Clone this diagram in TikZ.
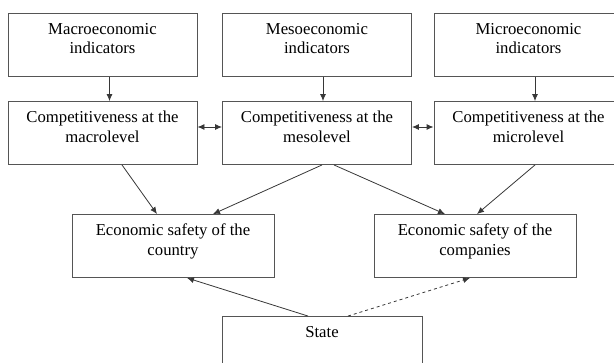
\documentclass[tikz,border=0pt]{standalone}
\usepackage{fontspec}
\setmainfont{Liberation Serif}
\usetikzlibrary{calc}
\usetikzlibrary{positioning}
\usetikzlibrary{arrows.meta}
\definecolor{boxgray}{RGB}{85,85,85}
\definecolor{linegray}{RGB}{55,55,55}
\tikzstyle{blockbox} = [draw=boxgray, line width=0.9pt, inner xsep=0pt, inner ysep=9.5pt, font=\fontsize{16.7}{19.5}\selectfont]
\tikzstyle{link} = [draw=linegray, line width=0.8pt, -{Latex[length=7pt,width=6pt]}]
\tikzstyle{duallink} = [draw=linegray, line width=0.9pt, {Latex[length=7pt,width=6pt]}-{Latex[length=7pt,width=6pt]}]
\newcommand{\blocktext}[2]{\parbox[t][44pt][t]{#1}{\centering #2}}

\begin{document}
\begin{tikzpicture}[x=1pt, y=-1pt]
    \useasboundingbox (0,0) rectangle (614,362);
    \clip (0,0) rectangle (614,362);

    \node[blockbox] (macro_ind) at (102.5,45) {\blocktext{189pt}{Macroeconomic\\indicators}};
    \node[blockbox] (meso_ind) at ($(macro_ind)+(214.5,0)$) {\blocktext{189pt}{Mesoeconomic\\indicators}};
    \node[blockbox] (micro_ind) at ($(meso_ind)+(211.5,0)$) {\blocktext{189pt}{Microeconomic\\indicators}};

    \node[blockbox] (macro_comp) at ($(macro_ind)+(0,88)$) {\blocktext{189pt}{Competitiveness at the\\macrolevel}};
    \node[blockbox] (meso_comp) at ($(meso_ind)+(0,88)$) {\blocktext{189pt}{Competitiveness at the\\mesolevel}};
    \node[blockbox] (micro_comp) at ($(micro_ind)+(0,88)$) {\blocktext{189pt}{Competitiveness at the\\microlevel}};

    \node[blockbox] (safe_country) at (173,246) {\blocktext{202pt}{Economic safety of the\\country}};
    \node[blockbox] (safe_comp) at ($(safe_country)+(302,0)$) {\blocktext{202pt}{Economic safety of the\\companies}};

    \node[blockbox] (state) at (322,348) {\blocktext{200pt}{State}};

    \draw[link] ([xshift=7pt]macro_ind.south) -- ([xshift=7pt]macro_comp.north);
    \draw[link] ([xshift=6pt]meso_ind.south) -- ([xshift=6pt]meso_comp.north);
    \draw[link] ([xshift=6.5pt]micro_ind.south) -- ([xshift=6.5pt]micro_comp.north);

    \draw[duallink] ([yshift=6pt]macro_comp.east) -- ([yshift=6pt]meso_comp.west);
    \draw[duallink] ([yshift=6pt]meso_comp.east) -- ([yshift=6pt]micro_comp.west);

    \draw[link] ([xshift=19.5pt]macro_comp.south) -- ([xshift=-16pt]safe_country.north);
    \draw[link] ([xshift=5pt]meso_comp.south) -- ([xshift=40pt]safe_country.north);
    \draw[link] ([xshift=17pt]meso_comp.south) -- ([xshift=-30pt]safe_comp.north);
    \draw[link] ([xshift=6.5pt]micro_comp.south) -- ([xshift=2pt]safe_comp.north);

    \draw[link] ([xshift=-14pt]state.north) -- ([xshift=14pt]safe_country.south);
    \draw[link, dashed] ([xshift=26pt]state.north) -- ([xshift=-5pt]safe_comp.south);
\end{tikzpicture}
\end{document}
